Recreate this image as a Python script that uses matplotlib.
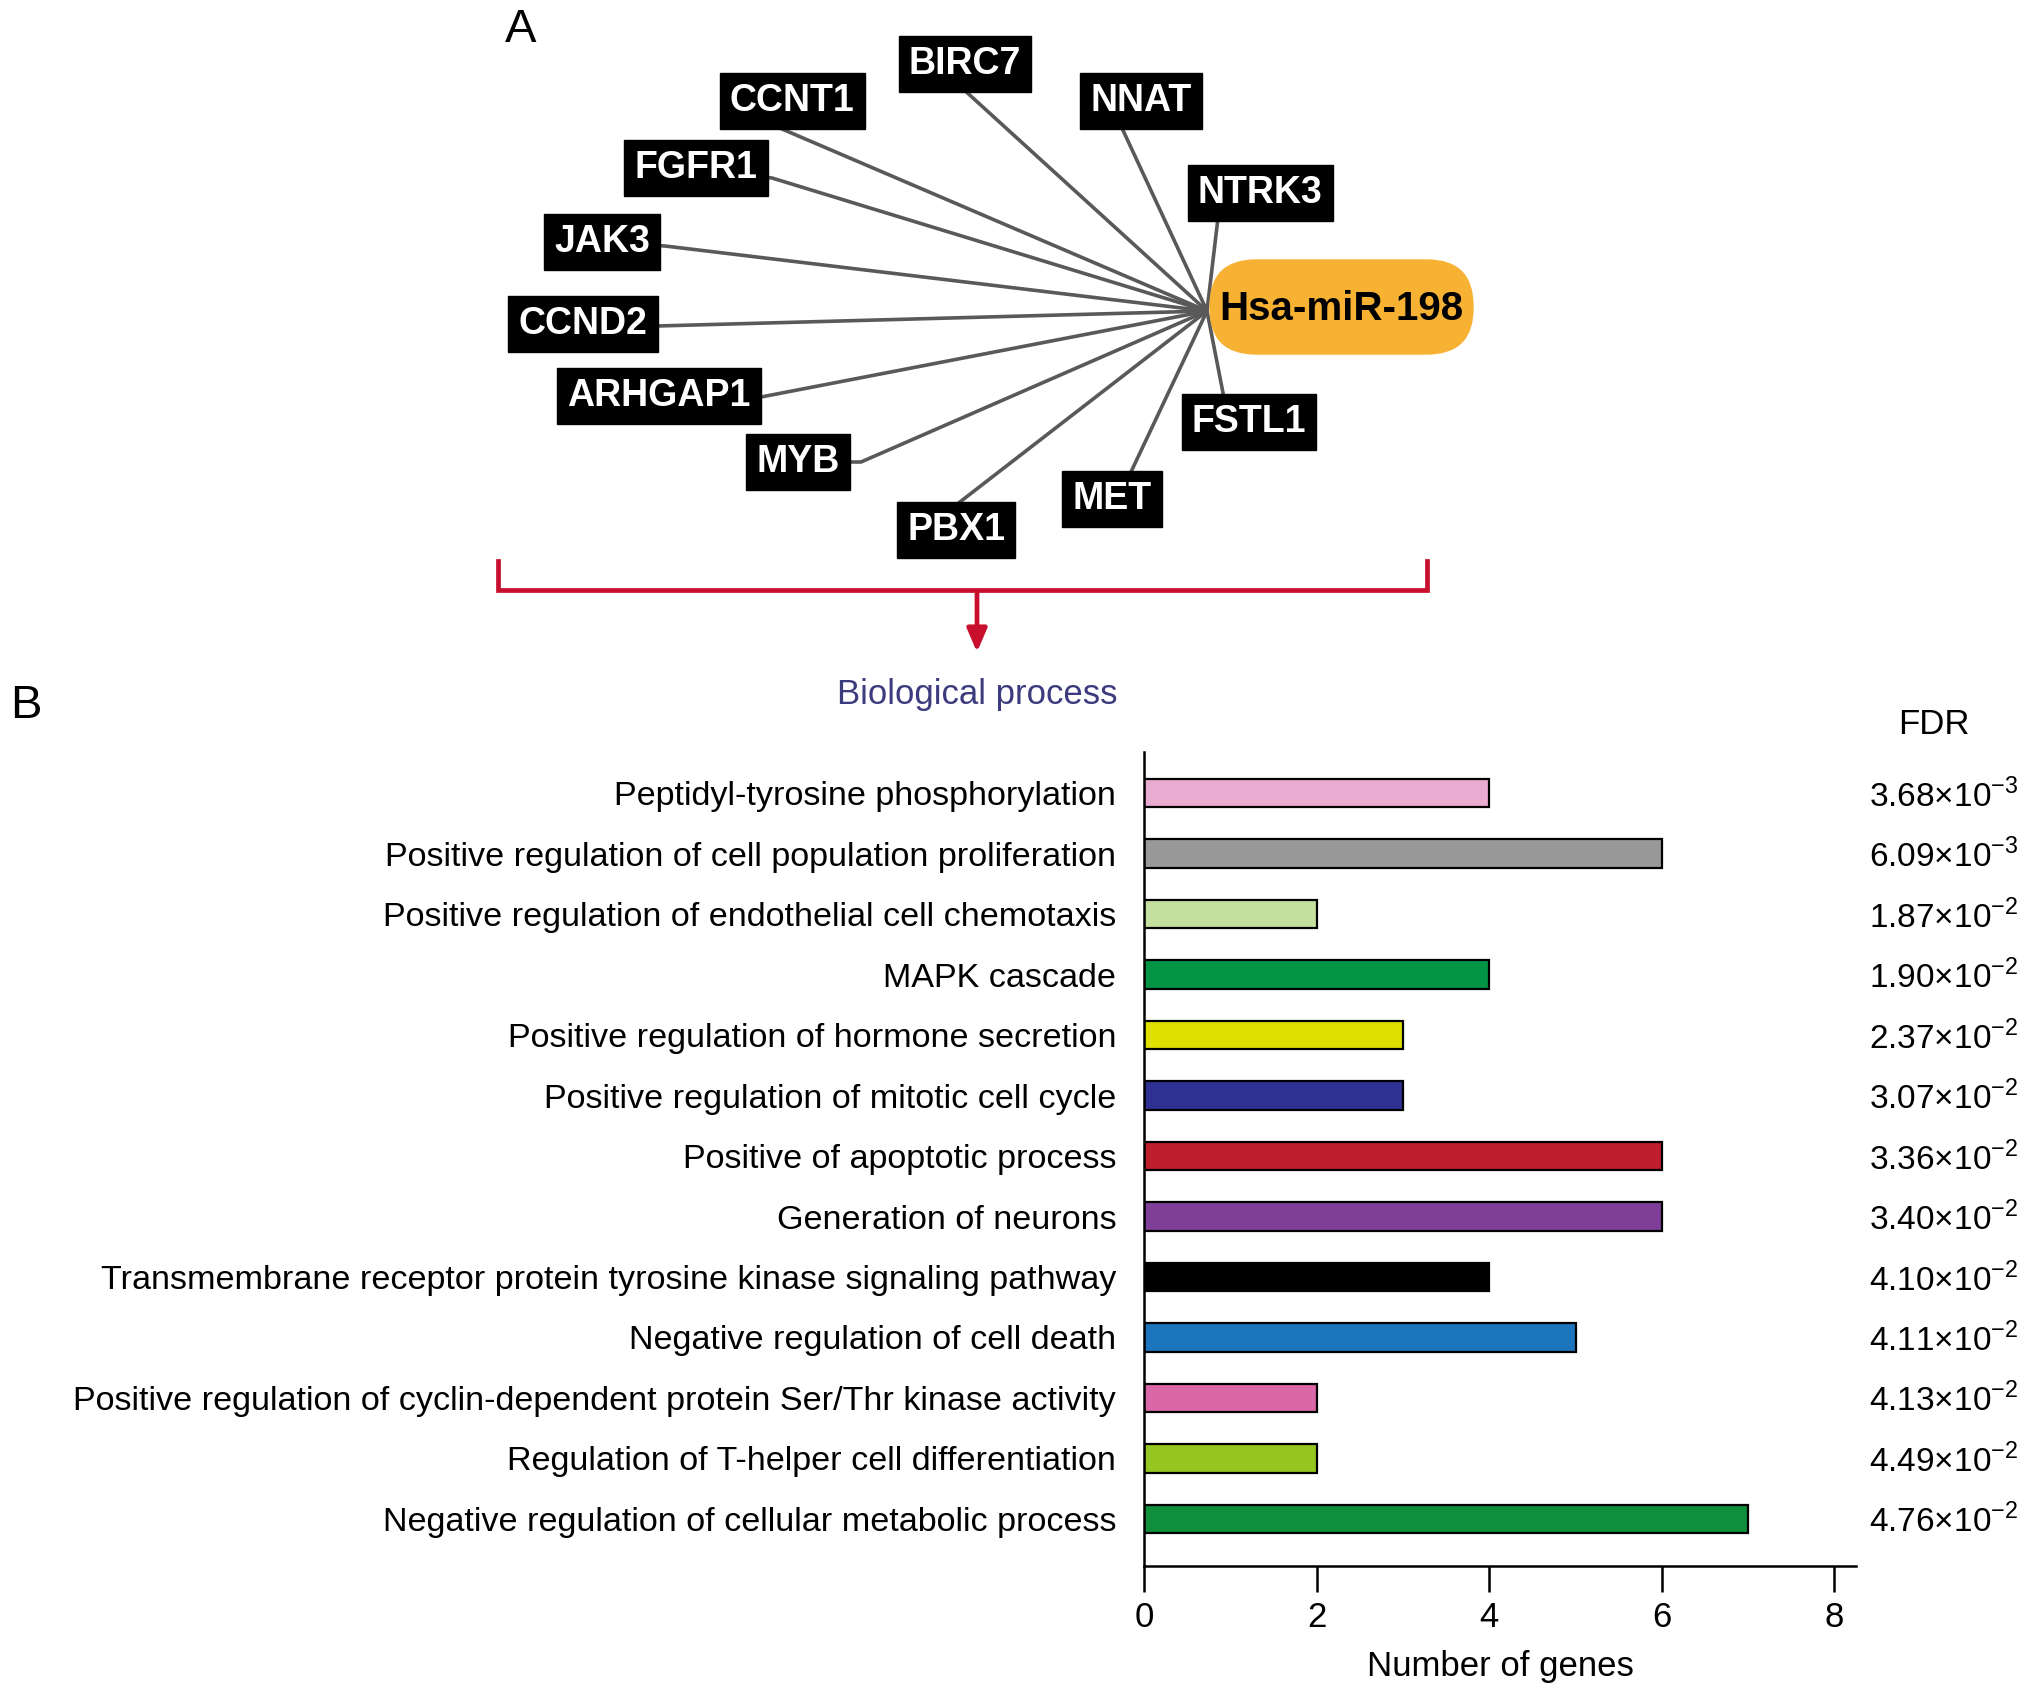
import numpy as np
import matplotlib.pyplot as plt
from matplotlib.patches import FancyBboxPatch

plt.rcParams['font.family'] = ['Liberation Sans', 'DejaVu Sans']
plt.rcParams['mathtext.fontset'] = 'custom'
plt.rcParams['mathtext.rm'] = 'Liberation Sans'

# ---- dados do painel B ----
processes = ['Peptidyl-tyrosine phosphorylation',
             'Positive regulation of cell population proliferation',
             'Positive regulation of endothelial cell chemotaxis',
             'MAPK cascade',
             'Positive regulation of hormone secretion',
             'Positive regulation of mitotic cell cycle',
             'Positive of apoptotic process',
             'Generation of neurons',
             'Transmembrane receptor protein tyrosine kinase signaling pathway',
             'Negative regulation of cell death',
             'Positive regulation of cyclin-dependent protein Ser/Thr kinase activity',
             'Regulation of T-helper cell differentiation',
             'Negative regulation of cellular metabolic process']
n_genes = [4, 6, 2, 4, 3, 3, 6, 6, 4, 5, 2, 2, 7]
fdr_mant = ['3.68', '6.09', '1.87', '1.90', '2.37', '3.07', '3.36', '3.40',
            '4.10', '4.11', '4.13', '4.49', '4.76']
fdr_exp = [-3, -3, -2, -2, -2, -2, -2, -2, -2, -2, -2, -2, -2]
bar_colors = ['#e9abd0', '#999999', '#c5df9f', '#009444', '#e0e000', '#2e3192',
              '#be1e2d', '#7f3f98', '#000000', '#1c75bc', '#da67a7', '#94c61f',
              '#0f8f3c']

# ---- dados do painel A (rede) ----
genes = ['BIRC7', 'CCNT1', 'NNAT', 'FGFR1', 'NTRK3', 'JAK3', 'CCND2',
         'ARHGAP1', 'MYB', 'FSTL1', 'MET', 'PBX1']
gene_x = [965, 792, 1141, 696, 1260, 602, 583, 659, 798, 1249, 1112, 956]  # centro (px)
gene_y = [64, 101, 101, 168, 193, 242, 324, 396, 462, 422, 499, 530]
link_x = [962, 775, 1121, 772, 1218, 665, 657, 761, 861, 1224, 1130, 956]  # ponto de ligação
link_y = [88, 126, 126, 178, 218, 246, 326, 397, 462, 398, 474, 505]
hub = (1207, 311)
mir = 'Hsa-miR-198'

fig = plt.figure(figsize=(20.32, 17), dpi=100)

# eixo de fundo em pixels para o diagrama
ov = fig.add_axes([0, 0, 1, 1])
ov.set_xlim(0, 2032)
ov.set_ylim(1700, 0)
ov.axis('off')

ov.text(521, 30, 'A', fontsize=34, ha='center', va='center')
ov.text(26, 706, 'B', fontsize=34, ha='center', va='center')

for g, gx, gy, lx, ly in zip(genes, gene_x, gene_y, link_x, link_y):
    # o trecho final até o centro fica escondido atrás da caixa
    ov.plot([hub[0], lx, gx], [hub[1], ly, gy], color='#595959', lw=2.6,
            zorder=1, solid_capstyle='butt')
    ov.text(gx, gy, g, fontsize=27, fontweight='bold', color='white',
            ha='center', va='center', zorder=3,
            bbox=dict(boxstyle='square,pad=0.27', fc='black', ec='black'))

# nó do miRNA
ov.add_patch(FancyBboxPatch((1210, 260), 263, 94,
                            boxstyle='round,pad=0,rounding_size=46',
                            fc='#f7b233', ec='#f7b233', zorder=2))
ov.text(1341, 309, mir, fontsize=29, fontweight='bold', color='black',
        ha='center', va='center', zorder=3)

# colchete vermelho e seta
red = '#c8102e'
ov.plot([498, 498, 1427, 1427], [561, 590, 590, 561], color=red, lw=3.4,
        solid_joinstyle='miter')
ov.annotate('', xy=(977, 655), xytext=(977, 588),
            arrowprops=dict(arrowstyle='-|>,head_length=1.4,head_width=0.6',
                            color=red, lw=3.4))

ov.text(977, 694, 'Biological process', fontsize=25, color='#3b3b7d',
        ha='center', va='center')
ov.text(1934, 724, 'FDR', fontsize=25, ha='center', va='center')

# ---- painel B: barras ----
ax = fig.add_axes([0.563, 0.0788, 0.3504, 0.4788])
y = np.arange(len(processes))
ax.barh(y, n_genes, height=0.47, color=bar_colors, edgecolor='black',
        linewidth=1.6)
ax.set_ylim(12.78, -0.68)
ax.set_xlim(0, 8.25)
ax.set_xticks([0, 2, 4, 6, 8])
ax.set_yticks(y)
ax.set_yticklabels(processes, fontsize=24.6)
ax.tick_params(axis='y', length=0, pad=20)
ax.tick_params(axis='x', length=19, width=1.8, labelsize=25, pad=6)
for s in ['top', 'right']:
    ax.spines[s].set_visible(False)
for s in ['left', 'bottom']:
    ax.spines[s].set_linewidth(1.8)
ax.set_xlabel('Number of genes', fontsize=25, labelpad=12)

for yi, m, e in zip(y, fdr_mant, fdr_exp):
    ax.text(8.4, yi + 0.05, m + r'$\times$10$^{%d}$' % e, fontsize=24,
            ha='left', va='center', clip_on=False)

fig.savefig('out.png', dpi=100)
